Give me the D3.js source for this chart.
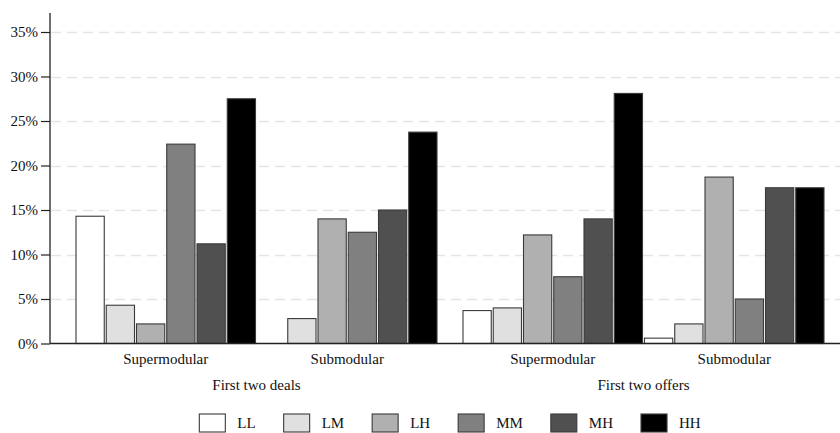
<!DOCTYPE html>
<html>
<head>
<meta charset="utf-8">
<script src="https://cdn.jsdelivr.net/npm/d3@7"></script>
<style>
  html, body { margin: 0; padding: 0; background: #fff; }
  svg { display: block; font-family: "Liberation Serif", "Times New Roman", serif; }
</style>
</head>
<body>
<svg id="chart" width="840" height="433"></svg>
<script>
// Outer categories (stage) and inner categories (game type)
const stages = ["First two deals", "First two offers"];
const games = ["Supermodular", "Submodular"];
// Pair types shown as bars within each game
const pairTypes = ["LL", "LM", "LH", "MM", "MH", "HH"];
const pairColors = ["#ffffff", "#e0e0e0", "#b0b0b0", "#808080", "#505050", "#000000"];

// Share of outcomes (%) per pair type, one array per stage × game
const dealsSuper  = [14.3, 4.3, 2.2, 22.4, 11.2, 27.5];
const dealsSub    = [0.0, 2.8, 14.0, 12.5, 15.0, 23.75];
const offersSuper = [3.7, 4.0, 12.2, 7.5, 14.0, 28.1];
const offersSub   = [0.6, 2.2, 18.7, 5.0, 17.5, 17.5];

const yTicks = [0, 5, 10, 15, 20, 25, 30, 35];
const yTickLabels = ["0%", "5%", "10%", "15%", "20%", "25%", "30%", "35%"];

const valuesByStage = {
  "First two deals":  { "Supermodular": dealsSuper,  "Submodular": dealsSub },
  "First two offers": { "Supermodular": offersSuper, "Submodular": offersSub }
};

const svg = d3.select("#chart");
const axisX = 50, plotRight = 850, baseY = 343.5, topY = 13;
const fontSize = 15;

const y = d3.scaleLinear().domain([0, 35]).range([baseY, 32]);

// Stage bands, then 12 bar slots per stage (2 games × 6 pair types)
const xStage = d3.scaleBand().domain(stages).range([75, 825]).paddingInner(0.062).paddingOuter(0);
const slots = [];
games.forEach(g => pairTypes.forEach(p => slots.push(g + "|" + p)));
const xSlot = d3.scaleBand().domain(slots).range([0, xStage.bandwidth()]).paddingInner(0.066).paddingOuter(0.033);

// Dashed gridlines
svg.append("g")
  .selectAll("line")
  .data(yTicks.filter(t => t > 0))
  .join("line")
  .attr("x1", axisX + 1).attr("x2", 840)
  .attr("y1", d => Math.round(y(d)) + 0.5).attr("y2", d => Math.round(y(d)) + 0.5)
  .attr("stroke", "#e5e5e5").attr("stroke-width", 1.5)
  .attr("stroke-dasharray", "10,6");

// Bars
const bars = [];
stages.forEach(s => games.forEach(g => pairTypes.forEach((p, i) => {
  bars.push({ stage: s, game: g, type: p, idx: i, value: valuesByStage[s][g][i] });
})));

svg.append("g")
  .selectAll("rect")
  .data(bars)
  .join("rect")
  .attr("x", d => xStage(d.stage) + xSlot(d.game + "|" + d.type))
  .attr("width", xSlot.bandwidth())
  .attr("y", d => y(d.value))
  .attr("height", d => baseY - y(d.value))
  .attr("fill", d => pairColors[d.idx])
  .attr("stroke", "#3a3a3a")
  .attr("stroke-width", 1.1);

// Y axis
const yAxis = d3.axisLeft(y)
  .tickValues(yTicks)
  .tickFormat((d, i) => yTickLabels[i])
  .tickSize(9)
  .tickPadding(3);
const gy = svg.append("g").attr("transform", `translate(${axisX},0)`).call(yAxis);
gy.select(".domain").remove();
gy.selectAll(".tick line").attr("stroke", "#222").attr("stroke-width", 1.2);
gy.selectAll(".tick text").attr("font-size", fontSize).attr("fill", "#111")
  .attr("font-family", "Liberation Serif, Times New Roman, serif");
svg.append("line")
  .attr("x1", axisX).attr("x2", axisX).attr("y1", topY).attr("y2", baseY)
  .attr("stroke", "#222").attr("stroke-width", 1.3);

// Baseline
svg.append("line")
  .attr("x1", axisX).attr("x2", 840).attr("y1", baseY).attr("y2", baseY)
  .attr("stroke", "#222").attr("stroke-width", 1.4);

// Game labels under each group of bars
const gameLabels = [];
stages.forEach(s => games.forEach(g => {
  const x0 = xStage(s) + xSlot(g + "|LL");
  const x1 = xStage(s) + xSlot(g + "|HH") + xSlot.bandwidth();
  gameLabels.push({ text: g, x: (x0 + x1) / 2 });
}));
svg.append("g")
  .selectAll("text")
  .data(gameLabels)
  .join("text")
  .attr("x", d => d.x).attr("y", 364)
  .attr("text-anchor", "middle")
  .attr("font-size", fontSize).attr("fill", "#111")
  .text(d => d.text);

// Stage labels
svg.append("g")
  .selectAll("text")
  .data(stages)
  .join("text")
  .attr("x", d => xStage(d) + xStage.bandwidth() / 2).attr("y", 390)
  .attr("text-anchor", "middle")
  .attr("font-size", fontSize).attr("fill", "#111")
  .text(d => d);

// Legend, laid out left to right and centred on the plot
const legend = svg.append("g");
const boxW = 26, boxH = 18, boxGap = 12, itemGap = 28;
let cx = 0;
pairTypes.forEach((p, i) => {
  const g = legend.append("g");
  g.append("rect").attr("x", 0).attr("y", 0).attr("width", boxW).attr("height", boxH)
    .attr("fill", pairColors[i]).attr("stroke", "#3a3a3a").attr("stroke-width", 1.1);
  const t = g.append("text").attr("x", boxW + boxGap).attr("y", boxH / 2 + 5)
    .attr("font-size", fontSize).attr("fill", "#111").text(p);
  const w = boxW + boxGap + t.node().getComputedTextLength();
  g.attr("transform", `translate(${cx},0)`);
  cx += w + itemGap;
});
const legendW = cx - itemGap;
legend.attr("transform", `translate(${(axisX + plotRight) / 2 - legendW / 2},414)`);
</script>
</body>
</html>
